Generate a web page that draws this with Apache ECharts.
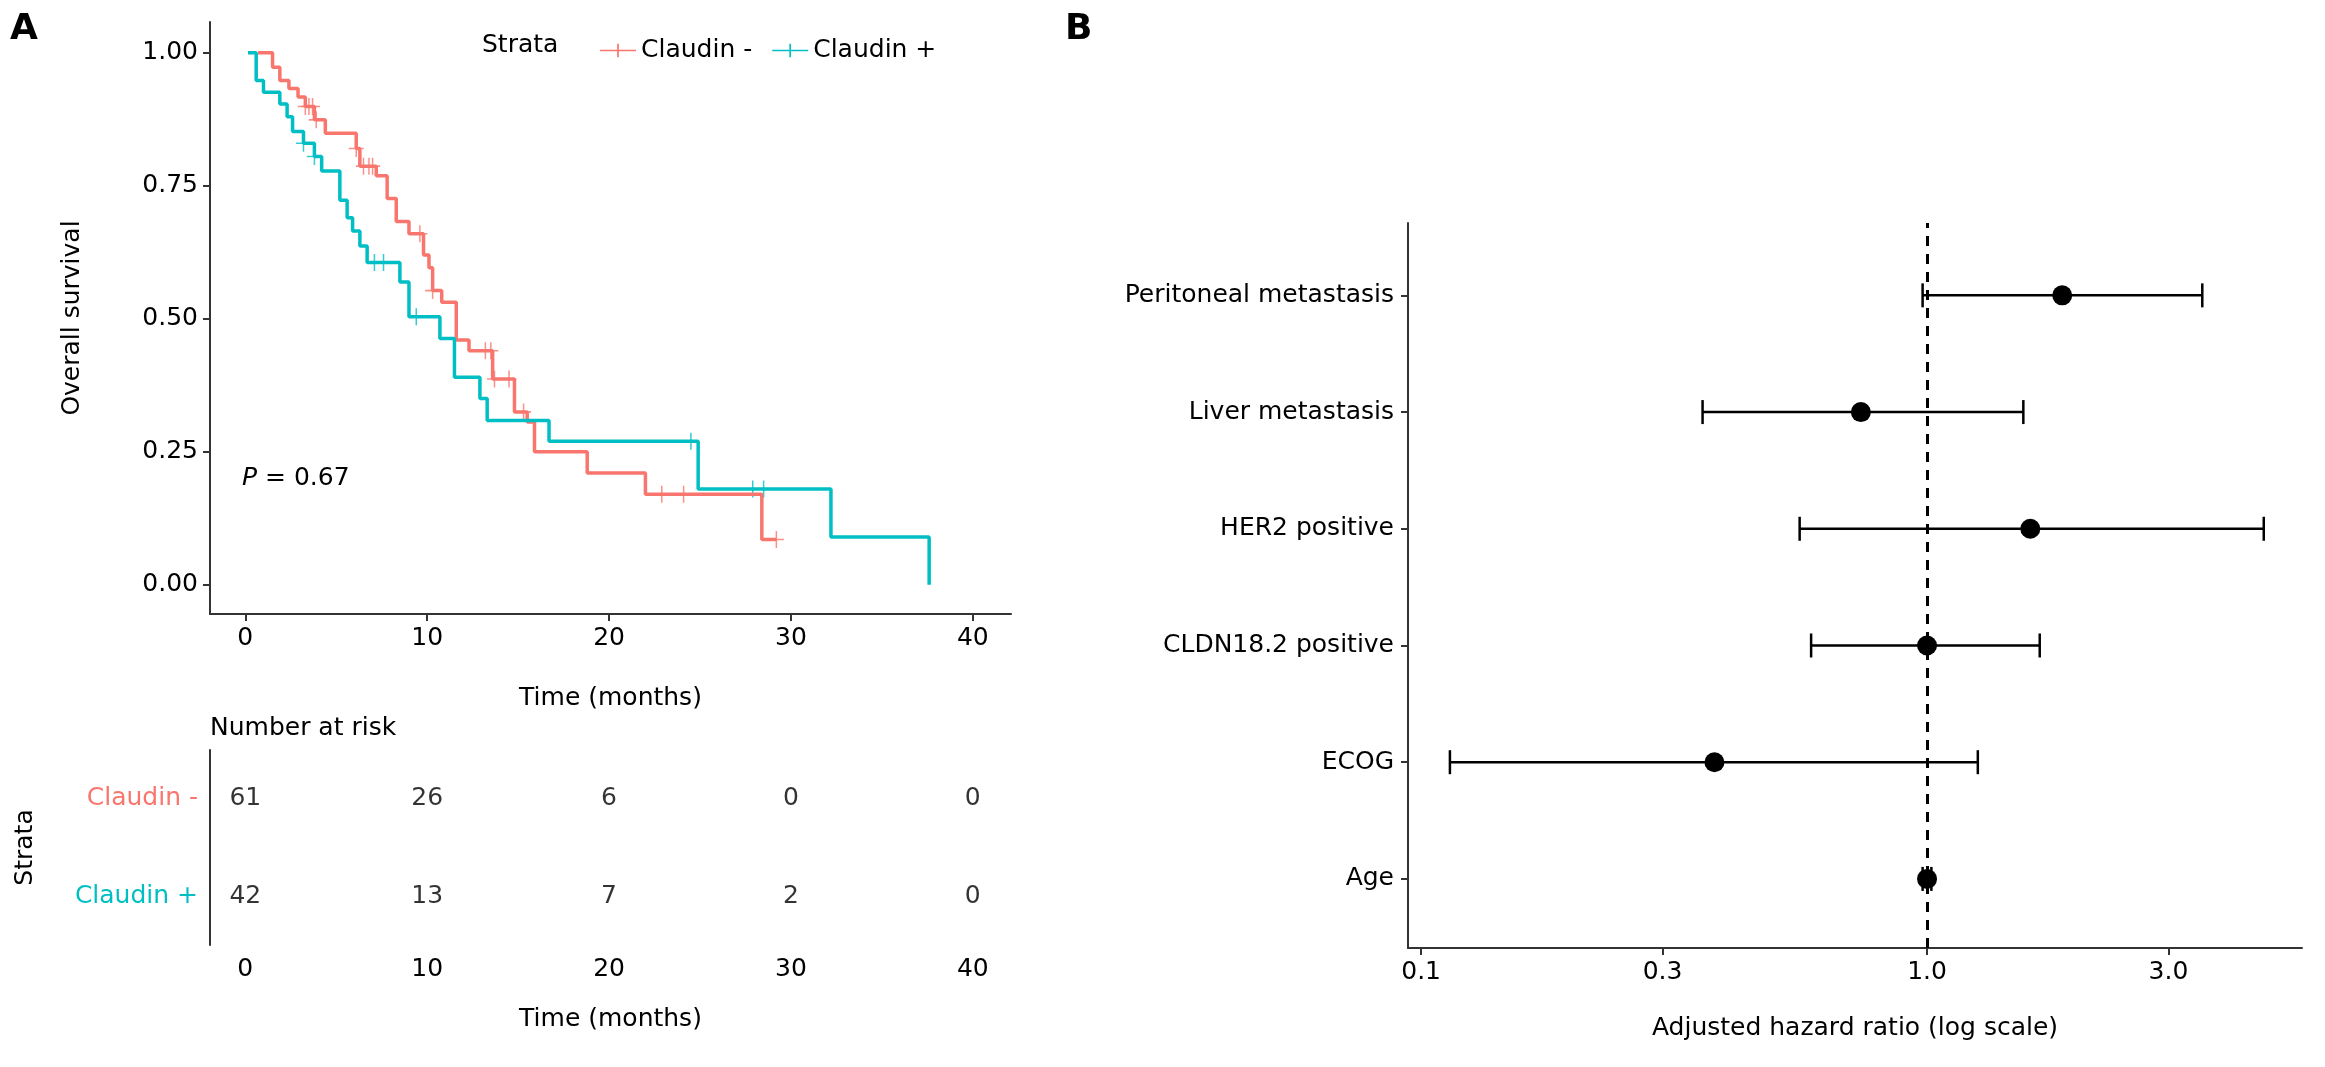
<!DOCTYPE html>
<html lang="en">
<head>
<meta charset="UTF-8">
<script src="https://cdn.jsdelivr.net/npm/echarts@6.0.0/dist/echarts.min.js"></script>
<title>Survival</title>
<style>html,body{margin:0;padding:0;background:#fff;}#main{width:2325px;height:1067px;}</style>
</head>
<body>
<div id="main"></div>
<script>
// Kaplan-Meier steps: [time, survival from that time on]
var negSteps = [[0.7,1],[1.5,0.973],[1.9,0.948],[2.4,0.933],[2.9,0.917],[3.3,0.899],[3.8,0.874],[4.4,0.849],[6.1,0.82],[6.3,0.787],[7.2,0.769],[7.8,0.726],[8.3,0.683],[9.0,0.66],[9.8,0.62],[10.1,0.596],[10.3,0.553],[10.8,0.531],[11.6,0.46],[12.3,0.44],[13.6,0.387],[14.8,0.325],[15.5,0.306],[15.9,0.25],[18.8,0.21],[22.0,0.17],[28.4,0.085],[29.2,0.085]];
var posSteps = [[0.15,1],[0.6,0.948],[1.0,0.926],[1.9,0.904],[2.3,0.88],[2.6,0.852],[3.2,0.83],[3.8,0.805],[4.2,0.778],[5.2,0.723],[5.6,0.69],[5.9,0.665],[6.3,0.637],[6.7,0.606],[8.5,0.569],[9.0,0.504],[10.7,0.463],[11.5,0.39],[12.9,0.35],[13.3,0.309],[16.7,0.27],[24.9,0.18],[32.2,0.09],[37.6,0]];
var negCensor = [3.3,3.5,3.7,3.9,6.1,6.5,6.8,7.0,9.6,10.3,13.2,13.5,13.7,14.5,15.3,22.9,24.1,29.2];
var posCensor = [3.2,3.8,7.1,7.6,9.4,24.5,27.9,28.5];
var riskTimes = [0, 10, 20, 30, 40];
var riskNeg = [61, 26, 6, 0, 0];
var riskPos = [42, 13, 7, 2, 0];
var strata = ['Claudin -', 'Claudin +'];
// forest plot
var forestVars = ['Age', 'ECOG', 'CLDN18.2 positive', 'HER2 positive', 'Liver metastasis', 'Peritoneal metastasis'];
var forestHR = [1.0, 0.38, 1.0, 1.6, 0.74, 1.85];
var forestLo = [0.98, 0.114, 0.59, 0.56, 0.36, 0.98];
var forestHi = [1.02, 1.26, 1.67, 4.63, 1.55, 3.5];
var forestTicks = [0.1, 0.3, 1.0, 3.0];

var RED = '#F8766D', TEAL = '#00BFC4';
var FONT = 'DejaVu Sans';
function survAt(steps, t) {
    var s = 1;
    for (var i = 0; i < steps.length; i++) if (steps[i][0] <= t) s = steps[i][1];
    return s;
}
function censorPts(steps, cs) { return cs.map(function (c) { return [c, survAt(steps, c)]; }); }
var plusPath = 'path://M0,5h10v1H0z M4.5,0h1v11h-1z';
var legendPath = 'path://M0,5h30v1.4H0z M14.3,0h1.4v11.4h-1.4z';
var axisLine = {onZero: false, lineStyle: {color: '#333', width: 2}};
var tickStyle = {length: 7, lineStyle: {color: '#333', width: 2}};
var lbl = {color: '#000', fontSize: 25, fontFamily: FONT};
var nameStyle = {color: '#000', fontSize: 25, fontFamily: FONT};

var chart = echarts.init(document.getElementById('main'));
var forestIdx = forestVars.map(function (v, i) { return i + 1; });
chart.setOption({
    animation: false,
    textStyle: {fontFamily: FONT},
    grid: [
        {left: 210, right: 1314, top: 22, bottom: 453},
        {left: 210, right: 1314, top: 750, bottom: 122},
        {left: 1408, right: 23, top: 223, bottom: 119}
    ],
    legend: {
        left: 595, top: 33, itemWidth: 36, itemHeight: 14, itemGap: 20,
        textStyle: {fontSize: 25, color: '#000', fontFamily: FONT},
        data: [{name: 'Claudin -', icon: legendPath}, {name: 'Claudin +', icon: legendPath}]
    },
    xAxis: [
        {gridIndex: 0, type: 'value', min: -1.94, max: 42.1,
            axisLabel: Object.assign({customValues: [0, 10, 20, 30, 40], margin: 12}, lbl),
            axisTick: Object.assign({customValues: [0, 10, 20, 30, 40]}, tickStyle),
            axisLine: axisLine, splitLine: {show: false},
            name: 'Time (months)', nameLocation: 'middle', nameGap: 72, nameTextStyle: nameStyle},
        {gridIndex: 1, type: 'value', min: -1.94, max: 42.1,
            axisLabel: Object.assign({customValues: riskTimes, margin: 12}, lbl),
            axisTick: Object.assign({customValues: riskTimes}, tickStyle),
            axisLine: axisLine, splitLine: {show: false},
            name: 'Time (months)', nameLocation: 'middle', nameGap: 62, nameTextStyle: nameStyle},
        {gridIndex: 2, type: 'log', min: 0.0942, max: 5.51,
            axisLabel: Object.assign({customValues: forestTicks, margin: 12,
                formatter: function (v) { return Number(v).toFixed(1); }}, lbl),
            axisTick: Object.assign({customValues: forestTicks}, tickStyle),
            axisLine: axisLine, splitLine: {show: false}, minorTick: {show: false},
            name: 'Adjusted hazard ratio (log scale)', nameLocation: 'middle', nameGap: 68, nameTextStyle: nameStyle}
    ],
    yAxis: [
        {gridIndex: 0, type: 'value', min: -0.055, max: 1.058,
            axisLabel: Object.assign({customValues: [0, 0.25, 0.5, 0.75, 1], margin: 12,
                formatter: function (v) { return Number(v).toFixed(2); }}, lbl),
            axisTick: Object.assign({customValues: [0, 0.25, 0.5, 0.75, 1]}, tickStyle),
            axisLine: axisLine, splitLine: {show: false},
            name: 'Overall survival', nameLocation: 'middle', nameGap: 125, nameTextStyle: nameStyle},
        {gridIndex: 1, type: 'category', inverse: true, data: strata,
            axisLabel: {fontSize: 25, fontFamily: FONT, margin: 12,
                color: function (v) { return v === strata[0] ? RED : TEAL; }},
            axisTick: Object.assign({alignWithLabel: true}, tickStyle),
            axisLine: axisLine,
            name: 'Strata', nameLocation: 'middle', nameGap: 172, nameTextStyle: nameStyle},
        {gridIndex: 2, type: 'value', min: 0.408, max: 6.62,
            axisLabel: Object.assign({customValues: forestIdx, margin: 14,
                formatter: function (v) { return forestVars[Math.round(v) - 1]; }}, lbl),
            axisTick: Object.assign({customValues: forestIdx}, tickStyle),
            axisLine: axisLine, splitLine: {show: false}}
    ],
    graphic: [
        {type: 'text', left: 10, top: 12, style: {text: 'A', font: 'bold 36px ' + FONT, fill: '#000'}},
        {type: 'text', left: 1065, top: 12, style: {text: 'B', font: 'bold 36px ' + FONT, fill: '#000'}},
        {type: 'text', left: 482, top: 33, style: {text: 'Strata', font: '25px ' + FONT, fill: '#000'}},
        {type: 'text', left: 242, top: 466, style: {rich: {i: {fontStyle: 'italic', fontSize: 25, fontFamily: FONT}, n: {fontSize: 25, fontFamily: FONT}}, text: '{i|P}{n| = 0.67}'}},
        {type: 'text', left: 210, top: 716, style: {text: 'Number at risk', font: '25px ' + FONT, fill: '#000'}}
    ],
    series: [
        {name: 'Claudin -', type: 'line', step: 'end', xAxisIndex: 0, yAxisIndex: 0, data: negSteps,
            showSymbol: false, color: RED, lineStyle: {width: 3.5}},
        {name: 'Claudin +', type: 'line', step: 'end', xAxisIndex: 0, yAxisIndex: 0, data: posSteps,
            showSymbol: false, color: TEAL, lineStyle: {width: 3.5}},
        {name: 'Claudin -', type: 'scatter', xAxisIndex: 0, yAxisIndex: 0, data: censorPts(negSteps, negCensor),
            symbol: plusPath, symbolSize: [15, 17], itemStyle: {color: RED}},
        {name: 'Claudin +', type: 'scatter', xAxisIndex: 0, yAxisIndex: 0, data: censorPts(posSteps, posCensor),
            symbol: plusPath, symbolSize: [15, 17], itemStyle: {color: TEAL}},
        {type: 'scatter', xAxisIndex: 1, yAxisIndex: 1, symbolSize: 0,
            data: riskTimes.map(function (t, i) { return [t, 0, riskNeg[i]]; }).concat(
                riskTimes.map(function (t, i) { return [t, 1, riskPos[i]]; })),
            label: {show: true, position: 'inside', fontSize: 25, color: '#000', fontFamily: FONT,
                formatter: function (p) { return p.value[2]; }}},
        {type: 'custom', xAxisIndex: 2, yAxisIndex: 2,
            data: forestHR.map(function (h, i) { return [forestLo[i], forestHi[i], i + 1, h]; }),
            renderItem: function (params, api) {
                var a = api.coord([api.value(0), api.value(2)]);
                var b = api.coord([api.value(1), api.value(2)]);
                var c = api.coord([api.value(3), api.value(2)]);
                var st = {stroke: '#000', lineWidth: 2.5};
                return {type: 'group', children: [
                    {type: 'line', shape: {x1: a[0], y1: a[1], x2: b[0], y2: b[1]}, style: st},
                    {type: 'line', shape: {x1: a[0], y1: a[1] - 12, x2: a[0], y2: a[1] + 12}, style: st},
                    {type: 'line', shape: {x1: b[0], y1: b[1] - 12, x2: b[0], y2: b[1] + 12}, style: st},
                    {type: 'circle', shape: {cx: c[0], cy: c[1], r: 10}, style: {fill: '#000'}}
                ]};
            },
            markLine: {silent: true, symbol: 'none', label: {show: false},
                lineStyle: {color: '#000', type: [10, 8], width: 3}, data: [{xAxis: 1}]}}
    ]
});
</script>
</body>
</html>
